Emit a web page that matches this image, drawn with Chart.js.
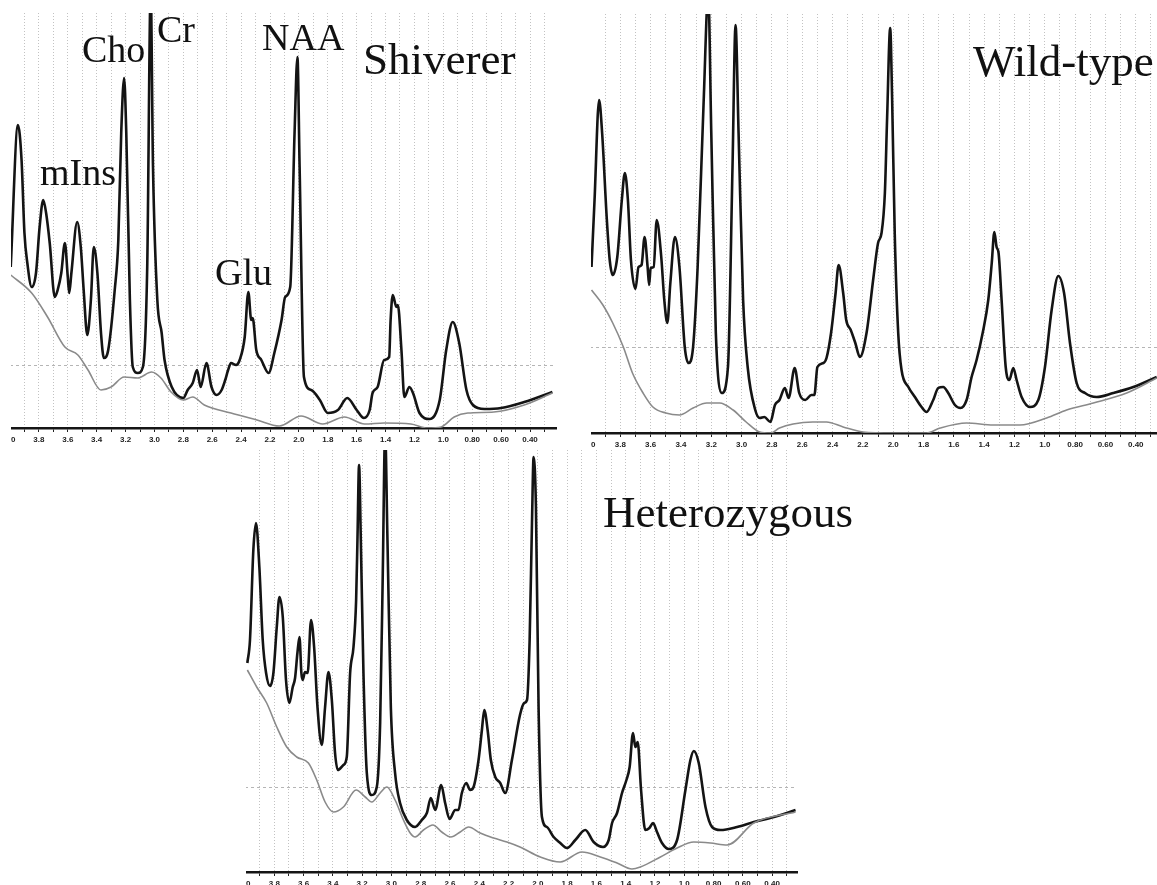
<!DOCTYPE html>
<html>
<head>
<meta charset="utf-8">
<script src="https://cdn.jsdelivr.net/npm/chart.js@4.4.1/dist/chart.umd.min.js"></script>
<style>
  body { margin: 0; background: #fff; width: 1157px; height: 885px; overflow: hidden; position: relative; font-family: "Liberation Serif", "Times New Roman", serif; }
  .panel { position: absolute; overflow: hidden; }
  .panel .wrap { position: absolute; }
  .lbl { position: absolute; white-space: nowrap; line-height: 1; color: #111; z-index: 5; }
</style>
</head>
<body>

<div class="panel" id="p1" style="left:11px;top:0;width:549px;height:448px"><div class="wrap" id="w1"><canvas id="c1"></canvas></div></div>
<div class="panel" id="p2" style="left:591px;top:0;width:566px;height:452px"><div class="wrap" id="w2"><canvas id="c2"></canvas></div></div>
<div class="panel" id="p3" style="left:246px;top:446px;width:554px;height:439px"><div class="wrap" id="w3"><canvas id="c3"></canvas></div></div>

<div class="lbl" style="left:82px;top:30px;font-size:38px">Cho</div>
<div class="lbl" style="left:157px;top:10px;font-size:38px">Cr</div>
<div class="lbl" style="left:262px;top:18px;font-size:38px">NAA</div>
<div class="lbl" style="left:40px;top:153px;font-size:38px">mIns</div>
<div class="lbl" style="left:215px;top:253px;font-size:38px">Glu</div>
<div class="lbl" style="left:363px;top:37px;font-size:45px">Shiverer</div>
<div class="lbl" style="left:973px;top:39px;font-size:45px">Wild-type</div>
<div class="lbl" style="left:603px;top:490px;font-size:45px">Heterozygous</div>

<script>
// chemical shift axis (ppm), grid every 0.1, labels every 0.2
const xTicks = [4.0, 3.9, 3.8, 3.7, 3.6, 3.5, 3.4, 3.3, 3.2, 3.1, 3.0, 2.9, 2.8, 2.7, 2.6, 2.5, 2.4, 2.3, 2.2, 2.1,
                2.0, 1.9, 1.8, 1.7, 1.6, 1.5, 1.4, 1.3, 1.2, 1.1, 1.0, 0.9, 0.8, 0.7, 0.6, 0.5, 0.4, 0.3];
const xTickLabels = ['4.0', '', '3.8', '', '3.6', '', '3.4', '', '3.2', '', '3.0', '', '2.8', '', '2.6', '', '2.4', '', '2.2', '',
                     '2.0', '', '1.8', '', '1.6', '', '1.4', '', '1.2', '', '1.0', '', '0.80', '', '0.60', '', '0.40', ''];

// Shiverer spectrum
const shivPpm = [3.995, 3.945, 3.92, 3.90, 3.88, 3.85, 3.82, 3.795, 3.77, 3.75, 3.725, 3.69, 3.67, 3.645, 3.62, 3.60, 3.59, 3.575,
  3.535, 3.51, 3.49, 3.465, 3.44, 3.42, 3.395, 3.37, 3.35, 3.32, 3.275, 3.25, 3.23, 3.21, 3.195, 3.17, 3.15, 3.115, 3.08, 3.05,
  3.026, 3.01, 2.98, 2.95, 2.93, 2.88, 2.80, 2.77, 2.735, 2.705, 2.68, 2.64, 2.605, 2.57, 2.535, 2.51, 2.49, 2.47, 2.435, 2.41,
  2.375, 2.35, 2.33, 2.32, 2.295, 2.26, 2.21, 2.17, 2.12, 2.095, 2.06, 2.03, 2.01, 1.995, 1.965, 1.915, 1.855, 1.80, 1.73, 1.665,
  1.60, 1.55, 1.51, 1.49, 1.455, 1.41, 1.375, 1.365, 1.35, 1.325, 1.315, 1.29, 1.27, 1.235, 1.21, 1.165, 1.095, 1.025, 0.98,
  0.935, 0.89, 0.84, 0.795, 0.715, 0.60, 0.44, 0.245];
const shivVal = [163, 305, 270, 197, 167, 143, 157, 203, 230, 217, 187, 133, 140, 157, 187, 153, 137, 157,
  208, 183, 140, 95, 130, 183, 157, 97, 72, 80, 140, 190, 297, 352, 297, 130, 63, 57, 63, 163,
  440, 263, 130, 97, 70, 43, 32, 40, 47, 60, 43, 67, 43, 35, 40, 50, 60, 67, 65, 70,
  93, 138, 110, 112, 80, 70, 57, 77, 110, 133, 143, 297, 373, 263, 53, 40, 30, 17, 20, 32,
  20, 12, 20, 37, 43, 70, 73, 110, 135, 123, 125, 80, 33, 43, 37, 17, 11, 30, 80,
  108, 87, 40, 25, 21, 22, 28, 38];
const shivBasePpm = [3.995, 3.85, 3.74, 3.62, 3.53, 3.46, 3.37, 3.30, 3.21, 3.115, 3.02, 2.955, 2.885, 2.80, 2.735, 2.655,
  2.47, 2.29, 2.135, 1.985, 1.835, 1.685, 1.545, 1.41, 1.225, 1.11, 1.015, 0.925, 0.83, 0.65, 0.44, 0.245];
const shivBaseVal = [155, 137, 113, 83, 75, 60, 40, 43, 53, 52, 58, 52, 38, 30, 33, 25,
  17, 10, 4, 14, 6, 13, 6, 7, 6, 2, 3, 13, 17, 18, 25, 37];

// Wild-type spectrum
const wtPpm = [3.99, 3.97, 3.94, 3.92, 3.89, 3.87, 3.85, 3.82, 3.79, 3.77, 3.75, 3.73, 3.70, 3.68, 3.66, 3.64, 3.62, 3.61, 3.60,
  3.58, 3.56, 3.53, 3.51, 3.49, 3.47, 3.44, 3.41, 3.375, 3.35, 3.32, 3.29, 3.25, 3.22, 3.20, 3.17, 3.13, 3.09, 3.06, 3.04, 3.02,
  2.99, 2.96, 2.91, 2.88, 2.85, 2.81, 2.78, 2.75, 2.715, 2.69, 2.65, 2.62, 2.58, 2.54, 2.52, 2.50, 2.46, 2.44, 2.41, 2.38, 2.36,
  2.33, 2.31, 2.28, 2.25, 2.22, 2.176, 2.13, 2.10, 2.077, 2.055, 2.04, 2.02, 2.007, 1.99, 1.967, 1.945, 1.90, 1.857, 1.813, 1.78,
  1.736, 1.703, 1.67, 1.637, 1.593, 1.556, 1.516, 1.483, 1.45, 1.41, 1.373, 1.35, 1.333, 1.318, 1.305, 1.285, 1.258, 1.234,
  1.208, 1.186, 1.153, 1.098, 1.043, 0.999, 0.955, 0.911, 0.873, 0.834, 0.79, 0.735, 0.658, 0.548, 0.416, 0.262];
const wtVal = [166, 233, 333, 300, 216, 173, 158, 176, 233, 260, 233, 173, 144, 166, 168, 196, 166, 148, 165,
  166, 213, 176, 133, 110, 150, 196, 166, 86, 70, 86, 166, 333, 440, 300, 100, 40, 66, 266, 408, 300,
  133, 66, 23, 15, 16, 11, 28, 33, 45, 35, 65, 40, 33, 38, 38, 66, 70, 75, 100, 140, 168,
  140, 113, 103, 90, 76, 100, 156, 190, 200, 240, 316, 405, 333, 200, 100, 63, 46, 36, 26, 21,
  33, 45, 46, 40, 28, 25, 33, 56, 73, 100, 133, 170, 201, 186, 180, 133, 66, 53,
  65, 53, 36, 26, 33, 66, 123, 157, 140, 90, 50, 40, 36, 40, 46, 56];
const wtBasePpm = [3.99, 3.915, 3.85, 3.78, 3.72, 3.65, 3.585, 3.50, 3.41, 3.32, 3.23, 3.145, 3.056, 2.97, 2.88, 2.81, 2.75,
  2.66, 2.53, 2.44, 2.33, 2.20, 2.0, 1.78, 1.69, 1.516, 1.34, 1.164, 0.988, 0.856, 0.68, 0.46, 0.262];
const wtBaseVal = [143, 128, 110, 86, 60, 40, 26, 20, 18, 25, 30, 30, 23, 11, 1, 0, 5,
  9, 11, 11, 6, 1, 0, 0, 5, 10, 8, 8, 15, 23, 30, 40, 55];

// Heterozygous spectrum
const hetPpm = [3.984, 3.966, 3.943, 3.925, 3.902, 3.879, 3.856, 3.829, 3.806, 3.783, 3.765, 3.742, 3.720, 3.697, 3.674, 3.658,
  3.642, 3.628, 3.615, 3.606, 3.590, 3.572, 3.549, 3.528, 3.505, 3.476, 3.453, 3.430, 3.407, 3.385, 3.366, 3.328, 3.305, 3.282,
  3.259, 3.241, 3.232, 3.221, 3.209, 3.191, 3.168, 3.134, 3.100, 3.077, 3.059, 3.043, 3.027, 3.004, 2.975, 2.941, 2.895, 2.838,
  2.792, 2.758, 2.731, 2.701, 2.660, 2.633, 2.603, 2.564, 2.542, 2.519, 2.489, 2.462, 2.439, 2.405, 2.382, 2.366, 2.343, 2.321,
  2.291, 2.257, 2.223, 2.177, 2.122, 2.093, 2.074, 2.056, 2.040, 2.029, 2.013, 1.995, 1.972, 1.938, 1.892, 1.847, 1.801, 1.744,
  1.676, 1.619, 1.555, 1.516, 1.493, 1.459, 1.425, 1.395, 1.373, 1.350, 1.334, 1.318, 1.295, 1.266, 1.238, 1.213, 1.186, 1.152,
  1.106, 1.049, 0.992, 0.958, 0.935, 0.901, 0.855, 0.810, 0.753, 0.639, 0.525, 0.388, 0.240];
const hetVal = [209, 232, 322, 349, 305, 232, 199, 186, 199, 245, 275, 255, 192, 169, 185, 194,
  219, 235, 199, 192, 200, 199, 252, 225, 165, 127, 165, 200, 172, 119, 102, 107, 115, 199,
  225, 272, 332, 407, 332, 199, 99, 77, 85, 149, 299, 440, 332, 165, 99, 69, 52, 45,
  52, 59, 74, 62, 87, 69, 53, 62, 62, 79, 89, 82, 85, 112, 142, 162, 142, 112,
  95, 89, 79, 112, 157, 169, 172, 232, 349, 415, 365, 165, 55, 45, 35, 29, 24, 32,
  42, 30, 25, 32, 49, 59, 79, 92, 105, 139, 125, 130, 82, 42, 44, 49, 40, 29,
  23, 32, 82, 112, 121, 109, 65, 45, 42, 45, 50, 55, 62];
const hetBasePpm = [3.984, 3.920, 3.852, 3.783, 3.715, 3.647, 3.567, 3.510, 3.453, 3.396, 3.328, 3.241, 3.179, 3.134, 3.077,
  3.031, 2.975, 2.918, 2.872, 2.838, 2.781, 2.717, 2.656, 2.594, 2.530, 2.473, 2.394, 2.302, 2.211, 2.122, 1.983, 1.847, 1.699,
  1.573, 1.459, 1.357, 1.300, 1.163, 1.049, 0.935, 0.821, 0.707, 0.525, 0.240];
const hetBaseVal = [202, 185, 169, 145, 125, 115, 109, 92, 70, 60, 65, 82, 75, 70, 79,
  85, 72, 52, 39, 35, 42, 47, 40, 35, 40, 45, 39, 34, 30, 25, 15, 10, 20,
  15, 9, 3, 5, 15, 24, 30, 29, 27, 49, 60];

function toPoints(xs, ys) {
  return xs.map((x, i) => ({ x: x, y: ys[i] }));
}

function tickLabel(value) {
  const i = xTicks.findIndex(t => Math.abs(t - value) < 1e-6);
  return i >= 0 ? xTickLabels[i] : '';
}

// where each panel's plot area sits on the page
const panels = [
  { id: 1, box: [11, 0], ppm: shivPpm, val: shivVal, bPpm: shivBasePpm, bVal: shivBaseVal,
    left: 10.4, right: 556.7, top: 13, bottom: 428, xMin: 0.22, yMin: 2, yMax: 417, hLine: 65 },
  { id: 2, box: [591, 0], ppm: wtPpm, val: wtVal, bPpm: wtBasePpm, bVal: wtBaseVal,
    left: 590.4, right: 1157, top: 14, bottom: 433, xMin: 0.26, yMin: 0, yMax: 419, hLine: 86 },
  { id: 3, box: [246, 446], ppm: hetPpm, val: hetVal, bPpm: hetBasePpm, bVal: hetBaseVal,
    left: 245, right: 796.6, top: 450, bottom: 872, xMin: 0.23, yMin: 0, yMax: 422, hLine: 85 }
];

const PAD = 30;
const AXIS_H = 20;

panels.forEach(p => {
  const canvas = document.getElementById('c' + p.id);
  const wrap = document.getElementById('w' + p.id);
  canvas.width = Math.round(p.right - p.left) + 2 * PAD;
  canvas.height = Math.round(p.bottom - p.top) + AXIS_H;

  const chart = new Chart(canvas.getContext('2d'), {
    type: 'line',
    data: {
      datasets: [
        {
          data: toPoints(p.bPpm, p.bVal),
          borderColor: '#8a8a8a',
          borderWidth: 1.6,
          pointRadius: 0,
          cubicInterpolationMode: 'monotone',
          fill: false
        },
        {
          data: toPoints(p.ppm, p.val),
          borderColor: '#141414',
          borderWidth: 2.6,
          pointRadius: 0,
          cubicInterpolationMode: 'monotone',
          borderJoinStyle: 'round',
          fill: false
        }
      ]
    },
    options: {
      responsive: false,
      animation: false,
      devicePixelRatio: 1,
      layout: { padding: { left: PAD, right: PAD, top: 0, bottom: 0 } },
      plugins: { legend: { display: false }, tooltip: { enabled: false } },
      scales: {
        x: {
          type: 'linear',
          reverse: true,
          min: p.xMin,
          max: 4.0,
          afterBuildTicks: s => { s.ticks = xTicks.filter(v => v >= p.xMin).map(v => ({ value: v })); },
          afterFit: s => { s.height = AXIS_H; },
          ticks: {
            autoSkip: false,
            maxRotation: 0,
            minRotation: 0,
            padding: 3,
            color: '#222',
            font: { family: 'Liberation Sans', size: 8, weight: 'bold' },
            callback: v => tickLabel(v)
          },
          grid: { color: '#c2c2c2', lineWidth: 1, tickLength: 4, tickColor: '#222' },
          border: { display: true, color: '#151515', width: 2.5, dash: [1, 2] }
        },
        y: {
          min: p.yMin,
          max: p.yMax,
          afterBuildTicks: s => { s.ticks = [{ value: p.hLine }]; },
          afterFit: s => { s.width = 0; },
          ticks: { display: false },
          grid: { color: '#b5b5b5', lineWidth: 1, drawTicks: false },
          border: { display: false, dash: [3, 3] }
        }
      }
    }
  });

  const area = chart.chartArea;
  wrap.style.left = (p.left - p.box[0] - area.left) + 'px';
  wrap.style.top = (p.top - p.box[1] - area.top) + 'px';
});
</script>
</body>
</html>
